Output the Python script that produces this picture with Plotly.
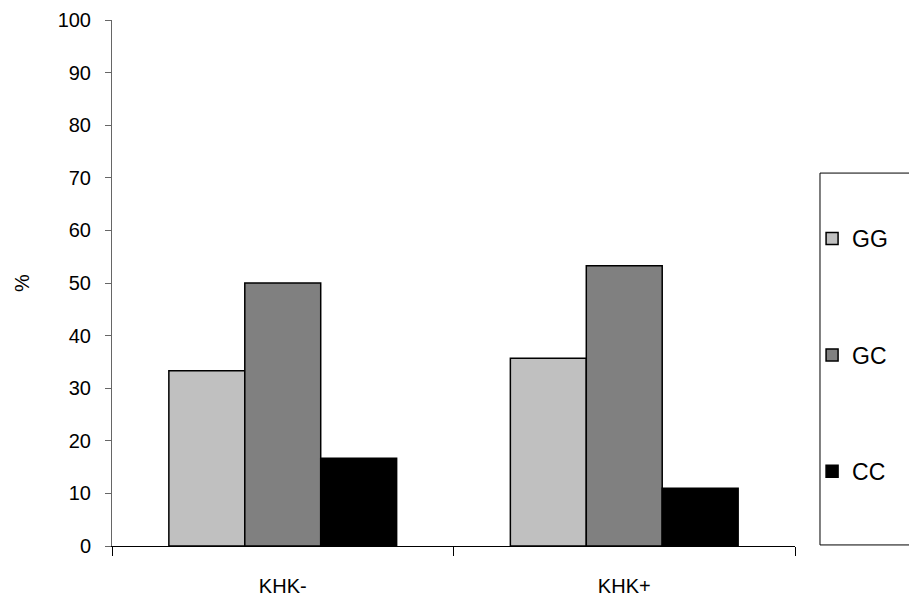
import plotly.graph_objects as go

categories = ["KHK-", "KHK+"]
series_names = ["GG", "GC", "CC"]
gg_values = [33.3, 35.7]
gc_values = [50.0, 53.3]
cc_values = [16.7, 11.0]
colors = ["#c0c0c0", "#808080", "#000000"]
y_ticks = list(range(0, 101, 10))

fig = go.Figure()
for i, (name, vals) in enumerate(zip(series_names, [gg_values, gc_values, cc_values])):
    fig.add_trace(go.Bar(
        x=categories, y=vals, name=name,
        marker=dict(color=colors[i], line=dict(color="#000000", width=1.5)),
        legendgroup=name,
    ))

font_family = "Liberation Sans, Arial, sans-serif"
fig.update_layout(
    width=909, height=599,
    margin=dict(l=112, r=114, t=20, b=53, autoexpand=False),
    paper_bgcolor="white", plot_bgcolor="white",
    barmode="group", bargap=0.333, bargroupgap=0,
    font=dict(family=font_family, size=20, color="#000000"),
    showlegend=True,
    legend=dict(
        x=1.025, xanchor="left", y=0.363, yanchor="middle",
        traceorder="grouped", tracegroupgap=83.5,
        font=dict(size=23, family=font_family),
        bgcolor="rgba(0,0,0,0)", borderwidth=0,
        itemwidth=30,
    ),
    xaxis=dict(
        showline=True, linecolor="#000000", linewidth=1,
        ticks="outside", ticklen=9, tickcolor="#000000", tickson="boundaries",
        ticklabelstandoff=22, tickfont=dict(size=20),
        showgrid=False, zeroline=False, automargin=False,
    ),
    yaxis=dict(
        range=[0, 100], tickvals=y_ticks,
        showline=True, linecolor="#666666", linewidth=1,
        ticks="outside", ticklen=6, tickcolor="#666666",
        ticklabelstandoff=10, tickfont=dict(size=20),
        showgrid=False, zeroline=False, automargin=False,
        title=dict(text="%", standoff=22, font=dict(size=20)),
    ),
    shapes=[dict(
        type="rect", xref="paper", yref="paper",
        x0=1.0366, x1=1.2, y0=0.002, y1=0.709,
        line=dict(color="#000000", width=1), fillcolor="rgba(0,0,0,0)",
    )],
)

fig.write_html("out.html")
